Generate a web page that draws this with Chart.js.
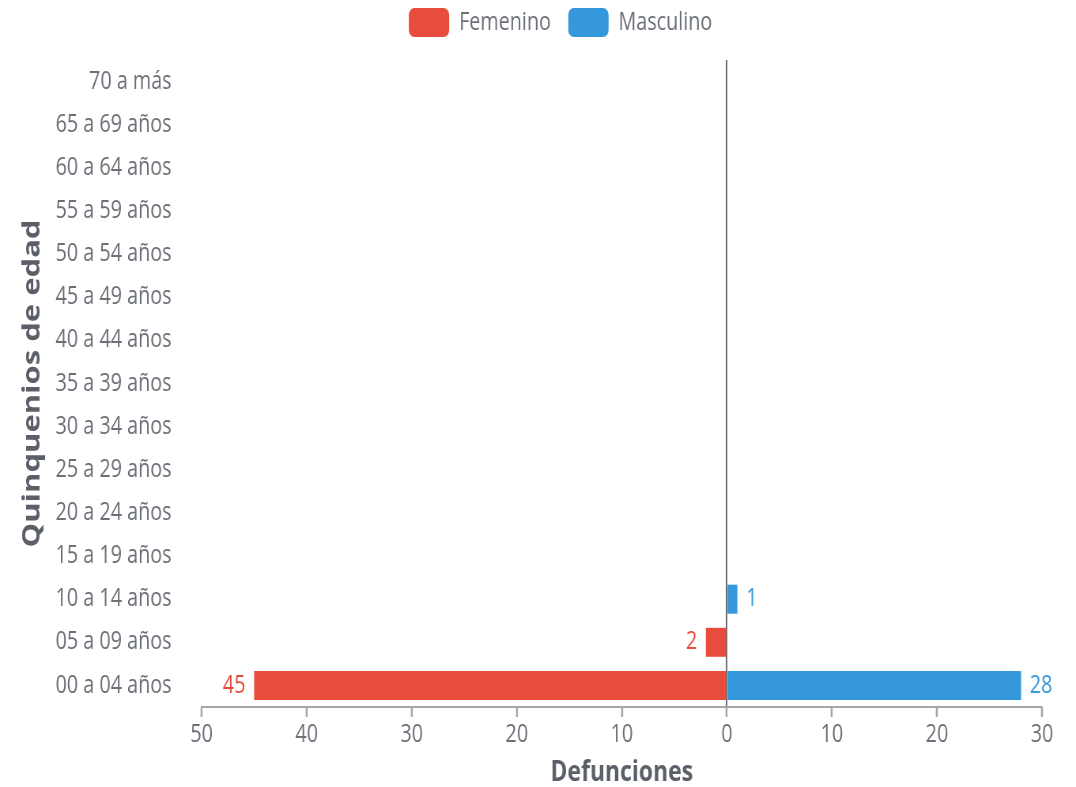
<!DOCTYPE html>
<html lang="es">
<head>
<meta charset="utf-8">
<title>Defunciones por quinquenios de edad y sexo</title>
<script src="https://cdn.jsdelivr.net/npm/chart.js@4/dist/chart.umd.min.js"></script>
<style>
  html, body { margin: 0; padding: 0; background: #ffffff; overflow: hidden; }
  /* El lienzo se dibuja más ancho y se comprime horizontalmente */
  #marco { width: 1076px; height: 787px; overflow: hidden; position: relative; }
  #wrap {
    width: 1361px; height: 787px; position: absolute; left: 0; top: 0;
    transform: scaleX(0.7906); transform-origin: 0 0;
  }
</style>
</head>
<body>
<div id="marco"><div id="wrap"><canvas id="piramide"></canvas></div></div>
<script>
// Grupos de edad, de arriba hacia abajo
const gruposEdad = [
  '70 a más', '65 a 69 años', '60 a 64 años', '55 a 59 años', '50 a 54 años',
  '45 a 49 años', '40 a 44 años', '35 a 39 años', '30 a 34 años', '25 a 29 años',
  '20 a 24 años', '15 a 19 años', '10 a 14 años', '05 a 09 años', '00 a 04 años'
];
// Defunciones por sexo (mismo orden que gruposEdad)
const femenino  = [0, 0, 0, 0, 0, 0, 0, 0, 0, 0, 0, 0, 0, 2, 45];
const masculino = [0, 0, 0, 0, 0, 0, 0, 0, 0, 0, 0, 0, 1, 0, 28];
// Marcas del eje horizontal
const ticksDefunciones = [-50, -40, -30, -20, -10, 0, 10, 20, 30];

const ROJO = '#E74C3C';
const AZUL = '#3498DB';
const GRIS_TEXTO = '#6b6f77';
const GRIS_TITULO = '#5b6068';
const FUENTE = "'Open Sans', 'Noto Sans', sans-serif";

// Etiquetas con el valor al extremo de cada barra
const etiquetasValor = {
  id: 'etiquetasValor',
  afterDatasetsDraw(chart) {
    const ctx = chart.ctx;
    ctx.save();
    ctx.font = '25px ' + FUENTE;
    ctx.textBaseline = 'middle';
    chart.data.datasets.forEach((ds, i) => {
      const meta = chart.getDatasetMeta(i);
      meta.data.forEach((bar, j) => {
        const v = ds.data[j];
        if (!v) return;
        ctx.fillStyle = ds.backgroundColor;
        if (v < 0) {
          ctx.textAlign = 'right';
          ctx.fillText(String(Math.abs(v)), bar.x - 11, bar.y);
        } else {
          ctx.textAlign = 'left';
          ctx.fillText(String(v), bar.x + 11, bar.y);
        }
      });
    });
    ctx.restore();
  }
};

// Ajustes de la leyenda: alto reservado, dibujada más arriba y desplazada a la derecha
const LEYENDA_SUBIDA = 14;
const ajusteLeyenda = {
  id: 'ajusteLeyenda',
  beforeLayout(chart) {
    const lg = chart.legend;
    if (lg && !lg._ajustada) {
      const fitOriginal = lg.fit.bind(lg);
      lg.fit = function () { fitOriginal(); this.height -= 1; };
      const drawOriginal = lg.draw.bind(lg);
      lg.draw = function () {
        const ctx = this.ctx;
        ctx.save();
        ctx.translate(0, -LEYENDA_SUBIDA);
        drawOriginal();
        ctx.restore();
      };
      lg._ajustada = true;
    }
  },
  afterLayout(chart) {
    if (chart.legend) chart.legend.left += 100;
  }
};

new Chart(document.getElementById('piramide'), {
  type: 'bar',
  data: {
    labels: gruposEdad,
    datasets: [
      { label: 'Femenino', data: femenino.map(v => -v), backgroundColor: ROJO, borderWidth: 0 },
      { label: 'Masculino', data: masculino, backgroundColor: AZUL, borderWidth: 0 }
    ]
  },
  options: {
    indexAxis: 'y',
    responsive: true,
    maintainAspectRatio: false,
    animation: false,
    datasets: { bar: { barPercentage: 0.84, categoryPercentage: 0.8 } },
    layout: { padding: { top: 0, right: 43, bottom: 0, left: 0 } },
    plugins: {
      legend: {
        position: 'top',
        labels: {
          boxWidth: 51,
          boxHeight: 29,
          useBorderRadius: true,
          borderRadius: 7,
          padding: 22,
          color: GRIS_TEXTO,
          font: { family: FUENTE, size: 25 }
        }
      },
      tooltip: { enabled: false }
    },
    scales: {
      x: {
        stacked: true,
        min: -50,
        max: 30,
        afterBuildTicks(scale) { scale.ticks = ticksDefunciones.map(v => ({ value: v })); },
        ticks: {
          color: GRIS_TEXTO,
          font: { family: FUENTE, size: 25 },
          padding: 3,
          callback: v => String(Math.abs(v))
        },
        grid: {
          drawOnChartArea: true,
          color: ctx => (ctx.tick && ctx.tick.value === 0) ? '#5d6066' : 'rgba(0,0,0,0)',
          lineWidth: 1.8,
          tickColor: '#a3a6ab',
          tickLength: 10,
          tickWidth: 2.5
        },
        border: { display: true, color: '#a3a6ab', width: 2 },
        title: {
          display: true,
          text: 'Defunciones',
          color: GRIS_TITULO,
          font: { family: FUENTE, size: 29, weight: 'bold', lineHeight: 1 },
          padding: { top: 5, bottom: 0 }
        }
      },
      y: {
        stacked: true,
        afterFit(scale) { scale.width = 255; },
        ticks: {
          color: GRIS_TEXTO,
          font: { family: FUENTE, size: 25 },
          padding: 38
        },
        grid: { display: false, drawTicks: false },
        border: { display: false },
        title: {
          display: true,
          text: 'Quinquenios de edad',
          color: GRIS_TITULO,
          font: { family: FUENTE, size: 31, weight: 'bold' },
          padding: { top: 23, bottom: 0 }
        }
      }
    }
  },
  plugins: [etiquetasValor, ajusteLeyenda]
});
</script>
</body>
</html>
